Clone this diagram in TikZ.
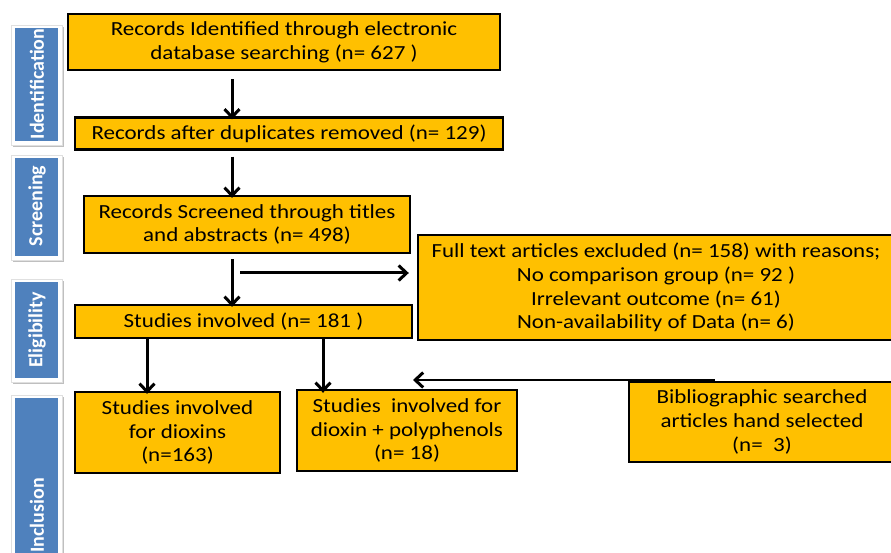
\documentclass[tikz,border=0pt]{standalone}
\usepackage{fontspec}
\setmainfont{Carlito}
\newfontfamily\boxfont[FakeStretch=1.15]{Carlito}
\usetikzlibrary{arrows.meta}
\definecolor{boxfill}{HTML}{FFC000}
\definecolor{phase}{HTML}{4F81BD}
\begin{document}
\begin{tikzpicture}[x=1pt,y=-1pt,
  flowbox/.style={draw=black, line width=2.4pt, fill=boxfill, inner sep=0pt,
    align=center, font=\boxfont\fontsize{20}{23.8}\selectfont},
  flowarrow/.style={line width=3pt, -{Straight Barb[length=8pt,width=15pt,line width=3pt]}},
  phaselabel/.style={rotate=90, text=white, font=\bfseries\fontsize{20}{22}\selectfont}]
\useasboundingbox (0,0) rectangle (891,553);
\fill[white] (0,0) rectangle (891,553);

% phase bars on the left
\foreach \ya/\yb/\name in {25/145/Identification, 155/260/Screening, 279/382/Eligibility, 395/560/Inclusion}{
  \fill[black!25] (13,\ya+2) rectangle (64,\yb+2);
  \fill[white] (11,\ya) rectangle (62,\yb);
  \draw[black!12] (11,\ya) rectangle (62,\yb);
  \fill[phase] (15,\ya+3) rectangle (58,\yb-4);
}
\node[phaselabel] (pid) at (37,84) {Identification};
\node[phaselabel] (psc) at (37,206) {Screening};
\node[phaselabel] (pel) at (37,330) {Eligibility};
\node[phaselabel, anchor=west] (pin) at (37,556) {Inclusion};

% flow boxes
\node[flowbox, minimum width=432, minimum height=56] (ident) at (284,42)
  {Records Identified through electronic\\database searching (n= 627 )};
\node[flowbox, minimum width=428, minimum height=32] (dup) at (289,133.5)
  {Records after duplicates removed (n= 129)};
\node[flowbox, minimum width=326, minimum height=57] (screen) at (247,224.5)
  {Records Screened through titles\\and abstracts (n= 498)};
\node[flowbox, minimum width=476, minimum height=105] (excl) at (656,287.5)
  {Full text articles excluded (n= 158) with reasons;\\No comparison group (n= 92 )\\Irrelevant outcome (n= 61)\\Non-availability of Data (n= 6)};
\node[flowbox, minimum width=337, minimum height=33] (incl) at (243.5,321.5)
  {Studies involved (n= 181 )};
\node[flowbox, minimum width=205, minimum height=81] (diox) at (177.5,432.5)
  {Studies involved\\for dioxins\\(n=163)};
\node[flowbox, minimum width=220, minimum height=81] (poly) at (407,430.5)
  {Studies\ \ involved for\\dioxin + polyphenols\\(n= 18)};
\node[flowbox, minimum width=266, minimum height=80] (biblio) at (762,422)
  {Bibliographic searched\\articles hand selected\\(n=\ \ 3)};

% connectors
\draw[flowarrow] (ident.south -| 232,0) ++(0,8) -- ([yshift=-3pt]dup.north -| 232,0);
\draw[flowarrow] (dup.south -| 232,0) ++(0,6) -- ([yshift=-3pt]screen.north -| 232,0);
\draw[flowarrow] (screen.south -| 232,0) ++(0,5) -- ([yshift=-3pt]incl.north -| 232,0);
\coordinate (split) at (240,273);
\draw[flowarrow] (split) -- ([xshift=-8pt]split -| excl.west);
\draw[flowarrow] (incl.south -| 147,0) -- ([yshift=-3pt]diox.north -| 147,0);
\draw[flowarrow] (incl.south -| 323,0) -- ([yshift=-4pt]poly.north -| 323,0);
\coordinate (handsel) at (715,380);
\coordinate (handend) at (413,380);
\draw[flowarrow, line width=2.4pt] (handsel) -- (handend);
\end{tikzpicture}
\end{document}
